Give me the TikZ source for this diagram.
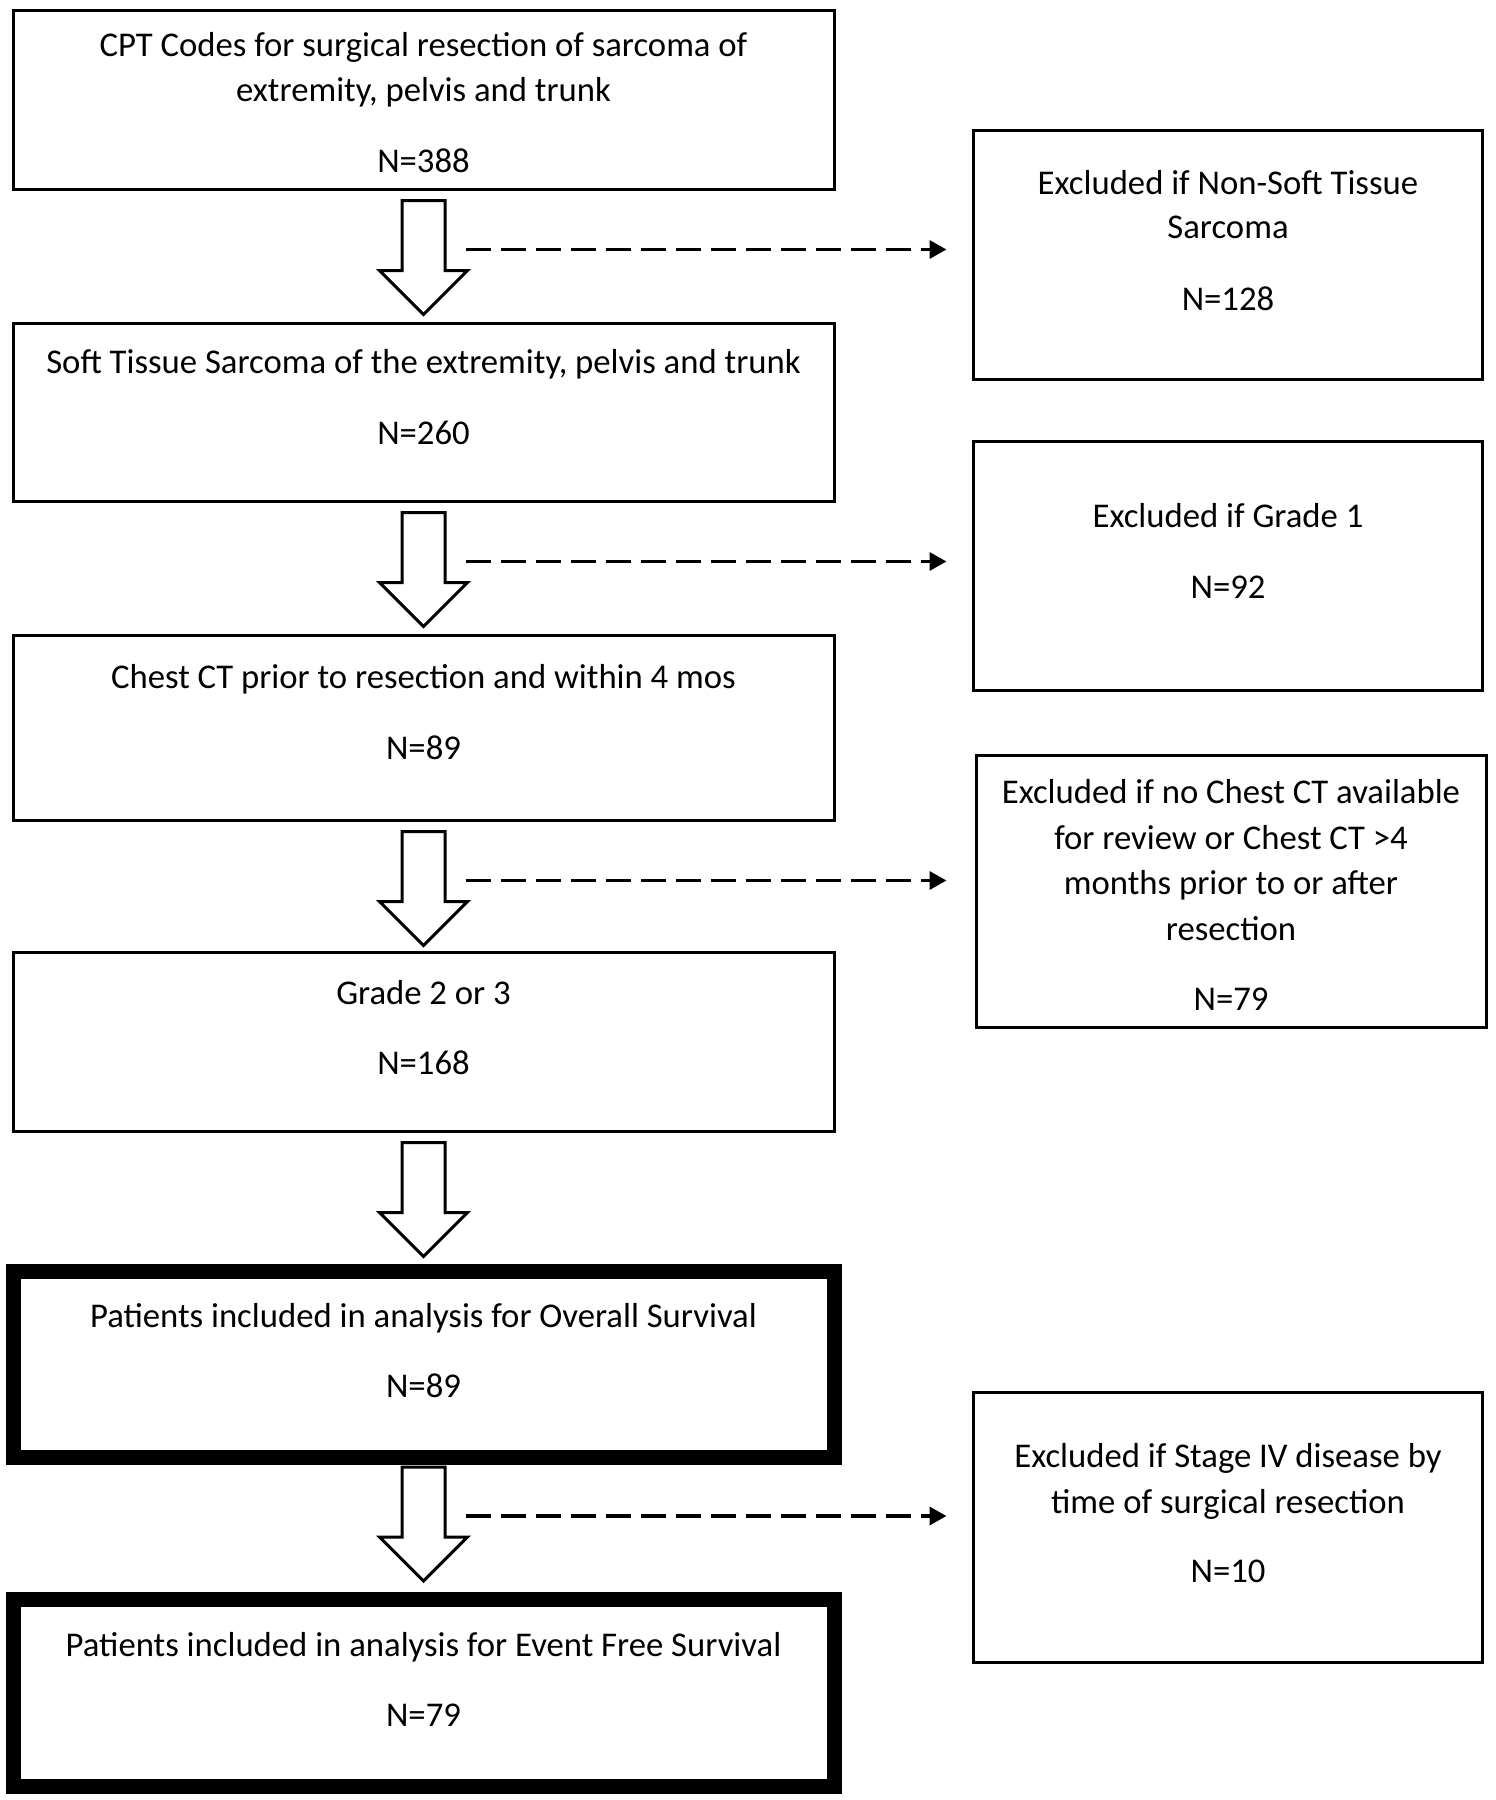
\documentclass[tikz,border=0pt]{standalone}
\usepackage{fontspec}
\setmainfont{Carlito}
\usetikzlibrary{arrows.meta}
\tikzset{
  box/.style={draw=black, line width=3pt, inner sep=0pt, fill=white},
  thickbox/.style={draw=black, line width=15pt, inner sep=0pt, fill=white},
  txt/.style={anchor=base, inner sep=0pt, font=\fontsize{34.7}{40}\selectfont},
  dasharrow/.style={line width=3.5pt, dash pattern=on 25pt off 10pt, -{Triangle[length=17pt,width=18pt]}},
  blockarr/.pic={
    \draw[line width=3pt, line join=miter, fill=white]
      (-21.5,0) -- (21.5,0) -- (21.5,70) -- (44,70) -- (0,114) -- (-44,70) -- (-21.5,70) -- cycle;
    \coordinate (-d) at (42,49);
  }
}
\begin{document}
\begin{tikzpicture}[x=1pt, y=-1pt]
\useasboundingbox[fill=white] (0,0) rectangle (1496,1800);

% main boxes
\node[box, minimum width=821pt, minimum height=179pt] (B1) at (423.5,99.5) {};
\node[box, minimum width=821pt, minimum height=178pt] (B2) at (423.5,412) {};
\node[box, minimum width=821pt, minimum height=185pt] (B3) at (423.5,727.5) {};
\node[box, minimum width=821pt, minimum height=179pt] (B4) at (423.5,1041.5) {};
\node[thickbox, minimum width=821pt, minimum height=186pt] (B5) at (423.5,1364.5) {};
\node[thickbox, minimum width=821pt, minimum height=187pt] (B6) at (423.5,1692.5) {};

% exclusion boxes
\node[box, minimum width=509pt, minimum height=249pt] (E1) at (1227.5,254.5) {};
\node[box, minimum width=509pt, minimum height=249pt] (E2) at (1227.5,565.5) {};
\node[box, minimum width=510pt, minimum height=272pt] (E3) at (1231,891) {};
\node[box, minimum width=509pt, minimum height=270pt] (E4) at (1227.5,1527) {};

% texts
\node[txt] (t1a) at (423.5,56) {CPT Codes for surgical resection of sarcoma of};
\node[txt] (t1b) at (423.5,101) {extremity, pelvis and trunk};
\node[txt] (t1n) at (423.5,172) {N=388};
\node[txt] (t2a) at (423.5,373) {Soft Tissue Sarcoma of the extremity, pelvis and trunk};
\node[txt] (t2n) at (423.5,444) {N=260};
\node[txt] (t3a) at (423.5,688) {Chest CT prior to resection and within 4 mos};
\node[txt] (t3n) at (423.5,759) {N=89};
\node[txt] (t4a) at (423.5,1004) {Grade 2 or 3};
\node[txt] (t4n) at (423.5,1074) {N=168};
\node[txt] (t5a) at (423.5,1327) {Patients included in analysis for Overall Survival};
\node[txt] (t5n) at (423.5,1397) {N=89};
\node[txt] (t6a) at (423.5,1656) {Patients included in analysis for Event Free Survival};
\node[txt] (t6n) at (423.5,1726) {N=79};

\node[txt] (e1a) at (1228,194) {Excluded if Non-Soft Tissue};
\node[txt] (e1b) at (1228,238) {Sarcoma};
\node[txt] (e1n) at (1228,310) {N=128};
\node[txt] (e2a) at (1228,527) {Excluded if Grade 1};
\node[txt] (e2n) at (1228,598) {N=92};
\node[txt] (e3a) at (1231,803) {Excluded if no Chest CT available};
\node[txt] (e3b) at (1231,849) {for review or Chest CT >4};
\node[txt] (e3c) at (1231,894) {months prior to or after};
\node[txt] (e3d) at (1231,940) {resection};
\node[txt] (e3n) at (1231,1010) {N=79};
\node[txt] (e4a) at (1228,1467) {Excluded if Stage IV disease by};
\node[txt] (e4b) at (1228,1513) {time of surgical resection};
\node[txt] (e4n) at (1228,1582) {N=10};

% block arrows
\pic (A1) at ([yshift=-10pt]B1.south) {blockarr};
\pic (A2) at ([yshift=-10pt]B2.south) {blockarr};
\pic (A3) at ([yshift=-10pt]B3.south) {blockarr};
\pic (A4) at ([yshift=-10pt]B4.south) {blockarr};
\pic (A5) at ([yshift=-2pt]B5.south) {blockarr};

% dashed exclusion arrows
\draw[dasharrow, shorten >=25pt] (A1-d) -- (A1-d -| E1.west);
\draw[dasharrow, shorten >=25pt] (A2-d) -- (A2-d -| E2.west);
\draw[dasharrow, shorten >=28pt] (A3-d) -- (A3-d -| E3.west);
\draw[dasharrow, shorten >=25pt] (A5-d) -- (A5-d -| E4.west);
\end{tikzpicture}
\end{document}
